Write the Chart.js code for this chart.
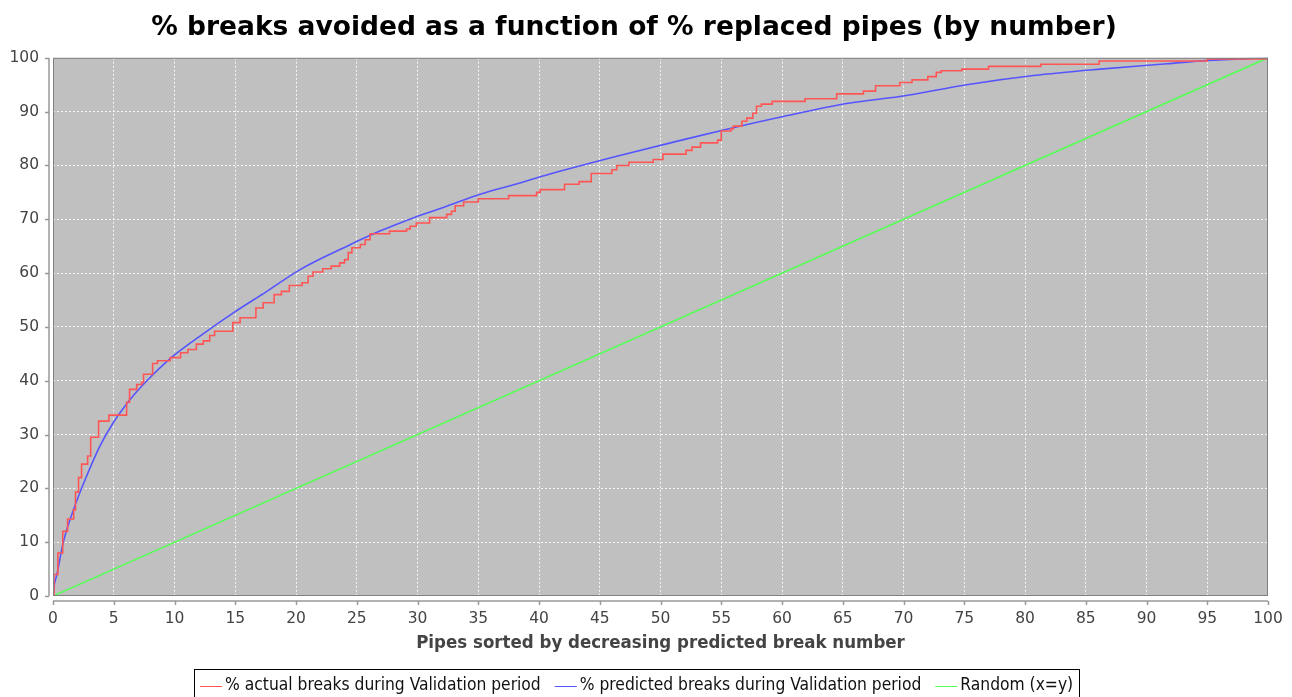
<!DOCTYPE html>
<html>
<head>
<meta charset="utf-8">
<title>% breaks avoided</title>
<script src="https://cdn.jsdelivr.net/npm/chart.js@4.4.1/dist/chart.umd.min.js"></script>
<style>
  html, body { margin: 0; padding: 0; background: #fff; }
  canvas { display: block; }
</style>
</head>
<body>
<canvas id="breaksChart" width="1292" height="697"></canvas>
<script>
// values (x = % pipes replaced, y = % breaks)
const actualX = [0, 0.08, 0.4, 0.8, 1.2, 1.7, 1.85, 2.1, 2.35, 2.85, 3.1, 3.75, 4.6, 6.06, 6.3, 6.89, 7.3, 7.45, 8.2, 8.6,
  9.65, 10.5, 11.1, 11.8, 12.37, 12.9, 13.3, 14.8, 15.4, 16.7, 17.3, 18.2, 18.8, 19.45, 20.5, 21, 21.4, 22.2, 22.9, 23.6,
  24, 24.3, 24.6, 25.3, 25.7, 26.1, 27.7, 29.1, 29.4, 29.9, 31, 32.4, 32.8, 33.1, 33.8, 35, 37.5, 39.8, 40.1, 42.1,
  43.3, 44.3, 46, 46.4, 47.4, 49.4, 50.2, 52.1, 52.6, 53.3, 54.7, 55, 55.8, 56, 56.7, 57.1, 57.6, 57.9, 58.3, 59.2,
  61.9, 64.5, 66.7, 67.7, 69.7, 70.7, 72, 72.7, 73.1, 74.8, 77, 81.3, 86.1, 95, 100];
const actualY = [0, 4, 8, 12, 14.3, 16, 19.3, 22, 24.5, 26, 29.5, 32.5, 33.6, 36, 38.4, 39.3, 39.7, 41.2, 43.2, 43.7,
  44.3, 45.2, 45.8, 46.8, 47.4, 48.4, 49.2, 50.8, 51.7, 53.5, 54.5, 56, 56.6, 57.7, 58.2, 59.4, 60.2, 60.8, 61.3, 61.9,
  62.5, 63.8, 64.7, 65.3, 66.2, 67.3, 67.8, 68.2, 68.7, 69.3, 70.3, 70.9, 71.5, 72.5, 73.2, 73.8, 74.4, 75, 75.5, 76.5,
  77, 78.5, 79.2, 80, 80.6, 81.1, 82.1, 82.8, 83.4, 84.2, 84.7, 86.4, 86.8, 87.3, 88.2, 88.8, 89.7, 91, 91.4, 91.9,
  92.4, 93.3, 93.8, 94.8, 95.4, 95.9, 96.5, 97.3, 97.6, 97.9, 98.4, 98.8, 99.4, 99.8, 100];

const predictedX = [0, 0.1, 0.3, 0.85, 1.81, 2.77, 3.87, 4.96, 6.6, 8.26, 9.9, 12.1, 14.84, 17.6, 20.3, 24.2, 26.9,
  29.7, 32.4, 35.1, 37.9, 40.9, 46.4, 51.9, 55.2, 60.1, 65.6, 69.7, 75.2, 80.7, 86.2, 91.7, 95, 100];
const predictedY = [0, 2, 3.8, 10, 16.8, 22.3, 27.9, 32.2, 37.2, 41.2, 44.6, 48.3, 52.6, 56.6, 60.6, 65, 67.8,
  70.3, 72.4, 74.6, 76.4, 78.4, 81.7, 84.8, 86.6, 89.1, 91.6, 92.8, 95, 96.7, 97.9, 98.9, 99.5, 100];

const randomX = [0, 100];
const randomY = [0, 100];

const labels = [
  '% actual breaks during Validation period',
  '% predicted breaks during Validation period',
  'Random (x=y)'
];
const colors = ['#ff5555', '#5555ff', '#55ff55'];

const toPoints = (xs, ys) => xs.map((x, i) => ({ x: x, y: ys[i] }));

const tickFont = { family: '"DejaVu Sans", sans-serif', size: 15.5 };

// gray plot background like the original
const plotBackground = {
  id: 'plotBackground',
  beforeDraw(chart) {
    const { ctx, chartArea: a } = chart;
    ctx.save();
    ctx.fillStyle = '#c0c0c0';
    ctx.fillRect(a.left, a.top, a.right - a.left, a.bottom - a.top);
    ctx.restore();
  }
};

// outline of the plot plus the offset axis lines with their tick marks
const axisFrame = {
  id: 'axisFrame',
  afterDatasetsDraw(chart) {
    const { ctx, chartArea: a, scales } = chart;
    ctx.save();
    ctx.strokeStyle = '#808080';
    ctx.lineWidth = 1;
    ctx.strokeRect(a.left + 0.5, a.top + 0.5, a.right - a.left - 1, a.bottom - a.top - 1);

    ctx.strokeStyle = '#999';
    ctx.lineWidth = 1.5;
    const ax = a.bottom + 5;
    const ay = a.left - 4;
    ctx.beginPath();
    ctx.moveTo(a.left, ax); ctx.lineTo(a.right, ax);
    ctx.moveTo(ay, a.top); ctx.lineTo(ay, a.bottom);
    scales.x.ticks.forEach(t => {
      const px = Math.round(scales.x.getPixelForValue(t.value)) + 0.5;
      ctx.moveTo(px, ax); ctx.lineTo(px, ax + 4);
    });
    scales.y.ticks.forEach(t => {
      const py = Math.round(scales.y.getPixelForValue(t.value)) + 0.5;
      ctx.moveTo(ay, py); ctx.lineTo(ay - 4, py);
    });
    ctx.stroke();
    ctx.restore();
  }
};

// boxed legend under the axis title
const boxedLegend = {
  id: 'boxedLegend',
  afterDraw(chart) {
    const ctx = chart.ctx;
    const sets = chart.data.datasets;
    const lineLen = 22, gap = 3, itemGap = 14, padX = 6;
    ctx.save();
    ctx.font = '17.3px "DejaVu Sans Condensed", "DejaVu Sans", sans-serif';
    const widths = sets.map(ds => ctx.measureText(ds.label).width);
    const total = widths.reduce((s, w) => s + lineLen + gap + w, 0) + itemGap * (sets.length - 1) + padX * 2;
    const top = chart.scales.x.bottom + 9;
    const mid = top + 17;
    let x = Math.round(chart.width / 2 - total / 2) - 9;
    ctx.strokeStyle = '#000';
    ctx.lineWidth = 1;
    ctx.strokeRect(x + 0.5, top + 0.5, Math.round(total), 40);
    x += padX;
    ctx.textBaseline = 'middle';
    ctx.fillStyle = '#111';
    sets.forEach((ds, i) => {
      ctx.strokeStyle = ds.borderColor;
      ctx.beginPath();
      ctx.moveTo(x, mid + 0.5); ctx.lineTo(x + lineLen, mid + 0.5);
      ctx.stroke();
      x += lineLen + gap;
      ctx.fillText(ds.label, x, mid);
      x += widths[i] + itemGap;
    });
    ctx.restore();
  }
};

const gridLines = {
  color: 'rgba(255,255,255,0.85)',
  tickLength: 8,
  tickColor: 'rgba(0,0,0,0)'
};

new Chart(document.getElementById('breaksChart'), {
  type: 'line',
  data: {
    datasets: [
      {
        label: labels[0],
        data: toPoints(actualX, actualY),
        borderColor: colors[0],
        borderWidth: 1.6,
        stepped: 'before',
        pointRadius: 0
      },
      {
        label: labels[1],
        data: toPoints(predictedX, predictedY),
        borderColor: colors[1],
        borderWidth: 1.6,
        cubicInterpolationMode: 'monotone',
        pointRadius: 0
      },
      {
        label: labels[2],
        data: toPoints(randomX, randomY),
        borderColor: colors[2],
        borderWidth: 1.6,
        pointRadius: 0
      }
    ]
  },
  options: {
    responsive: false,
    animation: false,
    layout: { padding: { left: 0, right: 24, top: 0, bottom: 37 } },
    plugins: {
      legend: { display: false },
      tooltip: { enabled: false },
      title: {
        display: true,
        text: '% breaks avoided as a function of % replaced pipes (by number)',
        color: '#000',
        font: { family: '"DejaVu Sans", sans-serif', size: 26.5, weight: 'bold' },
        padding: { top: 12, bottom: 14 }
      }
    },
    scales: {
      x: {
        type: 'linear',
        min: 0,
        max: 100,
        border: { display: false, dash: [2, 2] },
        grid: gridLines,
        ticks: { stepSize: 5, color: '#444', font: tickFont, padding: 6, maxRotation: 0 },
        title: {
          display: true,
          text: 'Pipes sorted by decreasing predicted break number',
          color: '#444',
          font: { family: '"DejaVu Sans Condensed", "DejaVu Sans", sans-serif', size: 18.5, weight: 'bold' },
          padding: { top: 0, bottom: 6 }
        },
        afterFit(scale) { scale.height = 64; }
      },
      y: {
        min: 0,
        max: 100,
        border: { display: false, dash: [2, 2] },
        grid: gridLines,
        ticks: { stepSize: 10, color: '#444', font: tickFont, padding: 6 },
        afterFit(scale) { scale.width = 53; }
      }
    }
  },
  plugins: [plotBackground, axisFrame, boxedLegend]
});
</script>
</body>
</html>
